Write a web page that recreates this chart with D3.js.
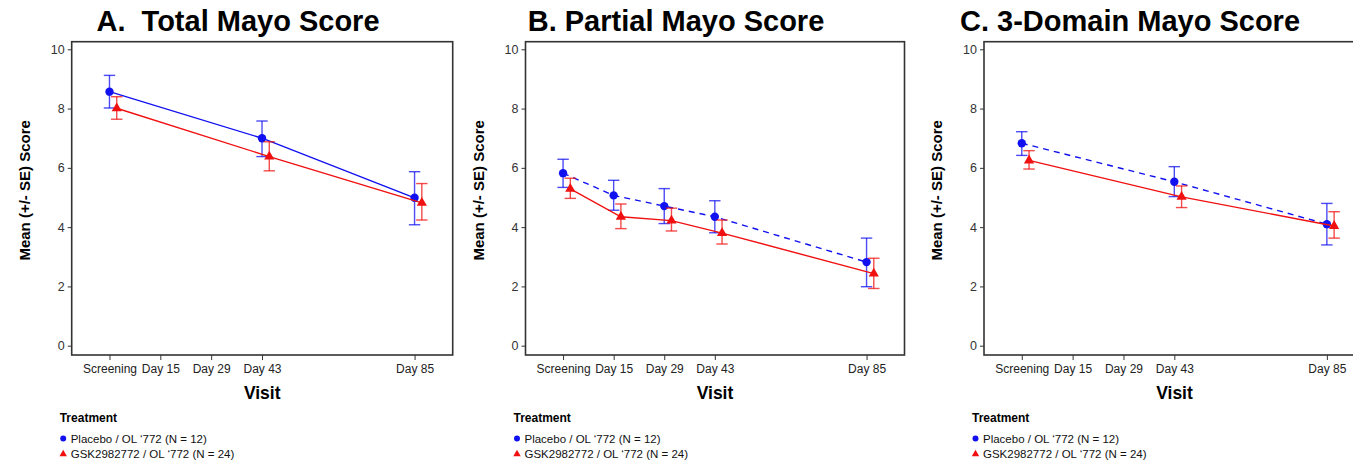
<!DOCTYPE html>
<html>
<head>
<meta charset="utf-8">
<script src="https://cdn.jsdelivr.net/npm/d3@7"></script>
<style>
  body { margin: 0; background: #fff; }
  svg { font-family: "Liberation Sans", Arial, sans-serif; }
</style>
</head>
<body>
<div id="chart"></div>
<script>
// visit labels and the study day each one sits on
const visits = ["Screening", "Day 15", "Day 29", "Day 43", "Day 85"];
const visitDays = [1, 15, 29, 43, 85];

const seriesNames = ["Placebo / OL \u2018772 (N = 12)", "GSK2982772 / OL \u2018772 (N = 24)"];

// A. Total Mayo Score
const totalDays = [1, 43, 85];
const totalPlaceboMean = [8.57, 7.00, 4.99];
const totalPlaceboLow = [8.02, 6.38, 4.08];
const totalPlaceboHigh = [9.12, 7.58, 5.87];
const totalActiveMean = [8.01, 6.38, 4.82];
const totalActiveLow = [7.64, 5.90, 4.24];
const totalActiveHigh = [8.40, 6.88, 5.47];

// B. Partial Mayo Score
const partialDays = [1, 15, 29, 43, 85];
const partialPlaceboMean = [5.82, 5.07, 4.71, 4.35, 2.82];
const partialPlaceboLow = [5.34, 4.57, 4.12, 3.81, 1.99];
const partialPlaceboHigh = [6.29, 5.58, 5.30, 4.89, 3.63];
const partialActiveMean = [5.29, 4.35, 4.22, 3.80, 2.43];
const partialActiveLow = [4.97, 3.95, 3.87, 3.43, 1.93];
const partialActiveHigh = [5.65, 4.78, 4.64, 4.24, 2.95];

// C. 3-Domain Mayo Score
const threeDays = [1, 43, 85];
const threePlaceboMean = [6.83, 5.53, 4.10];
const threePlaceboLow = [6.42, 5.03, 3.40];
const threePlaceboHigh = [7.22, 6.04, 4.80];
const threeActiveMean = [6.25, 5.02, 4.04];
const threeActiveLow = [5.96, 4.66, 3.63];
const threeActiveHigh = [6.58, 5.39, 4.52];

const yTicks = [0, 2, 4, 6, 8, 10];

const width = 1353;
const height = 463;

const blue = "#1010f0";
const red = "#f01010";

function makeRows(days, mean, low, high) {
  return days.map((d, i) => ({ day: d, mean: mean[i], low: low[i], high: high[i] }));
}

const panels = [
  {
    title: "A.  Total Mayo Score", titleX: 238,
    left: 71.7, right: 452.7,
    placebo: makeRows(totalDays, totalPlaceboMean, totalPlaceboLow, totalPlaceboHigh),
    active: makeRows(totalDays, totalActiveMean, totalActiveLow, totalActiveHigh),
    dashed: false
  },
  {
    title: "B. Partial Mayo Score", titleX: 676,
    left: 525.5, right: 904.5,
    placebo: makeRows(partialDays, partialPlaceboMean, partialPlaceboLow, partialPlaceboHigh),
    active: makeRows(partialDays, partialActiveMean, partialActiveLow, partialActiveHigh),
    dashed: true
  },
  {
    title: "C. 3-Domain Mayo Score", titleX: 1130,
    left: 984, right: 1365,
    placebo: makeRows(threeDays, threePlaceboMean, threePlaceboLow, threePlaceboHigh),
    active: makeRows(threeDays, threeActiveMean, threeActiveLow, threeActiveHigh),
    dashed: true
  }
];

const plotTop = 41.7;
const plotBottom = 355;

const svg = d3.select("#chart").append("svg")
  .attr("width", width)
  .attr("height", height);

const y = d3.scaleLinear()
  .domain([-0.314, 10.256])
  .range([plotBottom, plotTop]);

panels.forEach(p => {
  const g = svg.append("g");

  const x = d3.scaleLinear()
    .domain([-9.4, 95.5])
    .range([p.left, p.right]);

  // title
  g.append("text")
    .attr("x", p.titleX)
    .attr("y", 31)
    .attr("text-anchor", "middle")
    .style("font-size", "29px")
    .style("font-weight", "bold")
    .style("white-space", "pre")
    .text(p.title);

  // axes
  const yAxis = g.append("g")
    .attr("transform", `translate(${p.left},0)`)
    .call(d3.axisLeft(y).tickValues(yTicks).tickSize(4).tickPadding(3));
  yAxis.select(".domain").remove();
  yAxis.selectAll("text").style("font-size", "12.5px").attr("fill", "#333");
  yAxis.selectAll("line").attr("stroke", "#333");

  const xAxis = g.append("g")
    .attr("transform", `translate(0,${plotBottom})`)
    .call(d3.axisBottom(x).tickValues(visitDays).tickFormat((d, i) => visits[i]).tickSize(5).tickPadding(4));
  xAxis.select(".domain").remove();
  xAxis.selectAll("text").style("font-size", "12px").attr("fill", "#222");
  xAxis.selectAll("line").attr("stroke", "#333");

  // frame
  g.append("rect")
    .attr("x", p.left)
    .attr("y", plotTop)
    .attr("width", p.right - p.left)
    .attr("height", plotBottom - plotTop)
    .attr("fill", "none")
    .attr("stroke", "#333")
    .attr("stroke-width", 1.6);

  // axis titles
  g.append("text")
    .attr("transform", `translate(${p.left - 47},${(plotTop + plotBottom) / 2 - 8}) rotate(-90)`)
    .attr("text-anchor", "middle")
    .attr("dy", "0.35em")
    .style("font-size", "15px")
    .style("font-weight", "bold")
    .text("Mean (+/- SE) Score");

  g.append("text")
    .attr("x", (p.left + p.right) / 2)
    .attr("y", 398.5)
    .attr("text-anchor", "middle")
    .style("font-size", "17.5px")
    .style("font-weight", "bold")
    .text("Visit");

  // series: placebo at the visit day, active shifted 2 days to the right
  const series = [
    { rows: p.placebo, shift: 0, color: blue, dash: p.dashed ? "6,5" : null, shape: "circle" },
    { rows: p.active, shift: 2, color: red, dash: null, shape: "triangle" }
  ];

  series.forEach(s => {
    const line = d3.line()
      .x(d => x(d.day + s.shift))
      .y(d => y(d.mean));

    g.append("path")
      .datum(s.rows)
      .attr("fill", "none")
      .attr("stroke", s.color)
      .attr("stroke-width", 1.4)
      .attr("stroke-dasharray", s.dash)
      .attr("d", line);

    const bars = g.append("g")
      .attr("stroke", s.color)
      .attr("stroke-opacity", 0.75)
      .attr("stroke-width", 1.4);

    bars.selectAll(".stem")
      .data(s.rows)
      .join("line")
      .attr("x1", d => x(d.day + s.shift))
      .attr("x2", d => x(d.day + s.shift))
      .attr("y1", d => y(d.low))
      .attr("y2", d => y(d.high));

    bars.selectAll(".capTop")
      .data(s.rows)
      .join("line")
      .attr("x1", d => x(d.day + s.shift) - 5.7)
      .attr("x2", d => x(d.day + s.shift) + 5.7)
      .attr("y1", d => y(d.high))
      .attr("y2", d => y(d.high));

    bars.selectAll(".capBottom")
      .data(s.rows)
      .join("line")
      .attr("x1", d => x(d.day + s.shift) - 5.7)
      .attr("x2", d => x(d.day + s.shift) + 5.7)
      .attr("y1", d => y(d.low))
      .attr("y2", d => y(d.low));

    const symbol = s.shape === "circle" ? d3.symbolCircle : d3.symbolTriangle;
    g.append("g").selectAll("path")
      .data(s.rows)
      .join("path")
      .attr("transform", d => `translate(${x(d.day + s.shift)},${y(d.mean)})`)
      .attr("d", d3.symbol().type(symbol).size(s.shape === "circle" ? 55 : 45))
      .attr("fill", s.color);
  });

  // legend
  const legend = g.append("g")
    .attr("transform", `translate(${p.left - 12},0)`);

  legend.append("text")
    .attr("x", 0)
    .attr("y", 422)
    .style("font-size", "12px")
    .style("font-weight", "bold")
    .text("Treatment");

  legend.append("path")
    .attr("transform", "translate(3.5,438.5)")
    .attr("d", d3.symbol().type(d3.symbolCircle).size(28))
    .attr("fill", blue);

  legend.append("path")
    .attr("transform", "translate(3.5,454)")
    .attr("d", d3.symbol().type(d3.symbolTriangle).size(24))
    .attr("fill", red);

  seriesNames.forEach((name, i) => {
    legend.append("text")
      .attr("x", 11)
      .attr("y", 442.5 + i * 15.5)
      .style("font-size", "11.5px")
      .attr("fill", "#111")
      .text(name);
  });
});
</script>
</body>
</html>
